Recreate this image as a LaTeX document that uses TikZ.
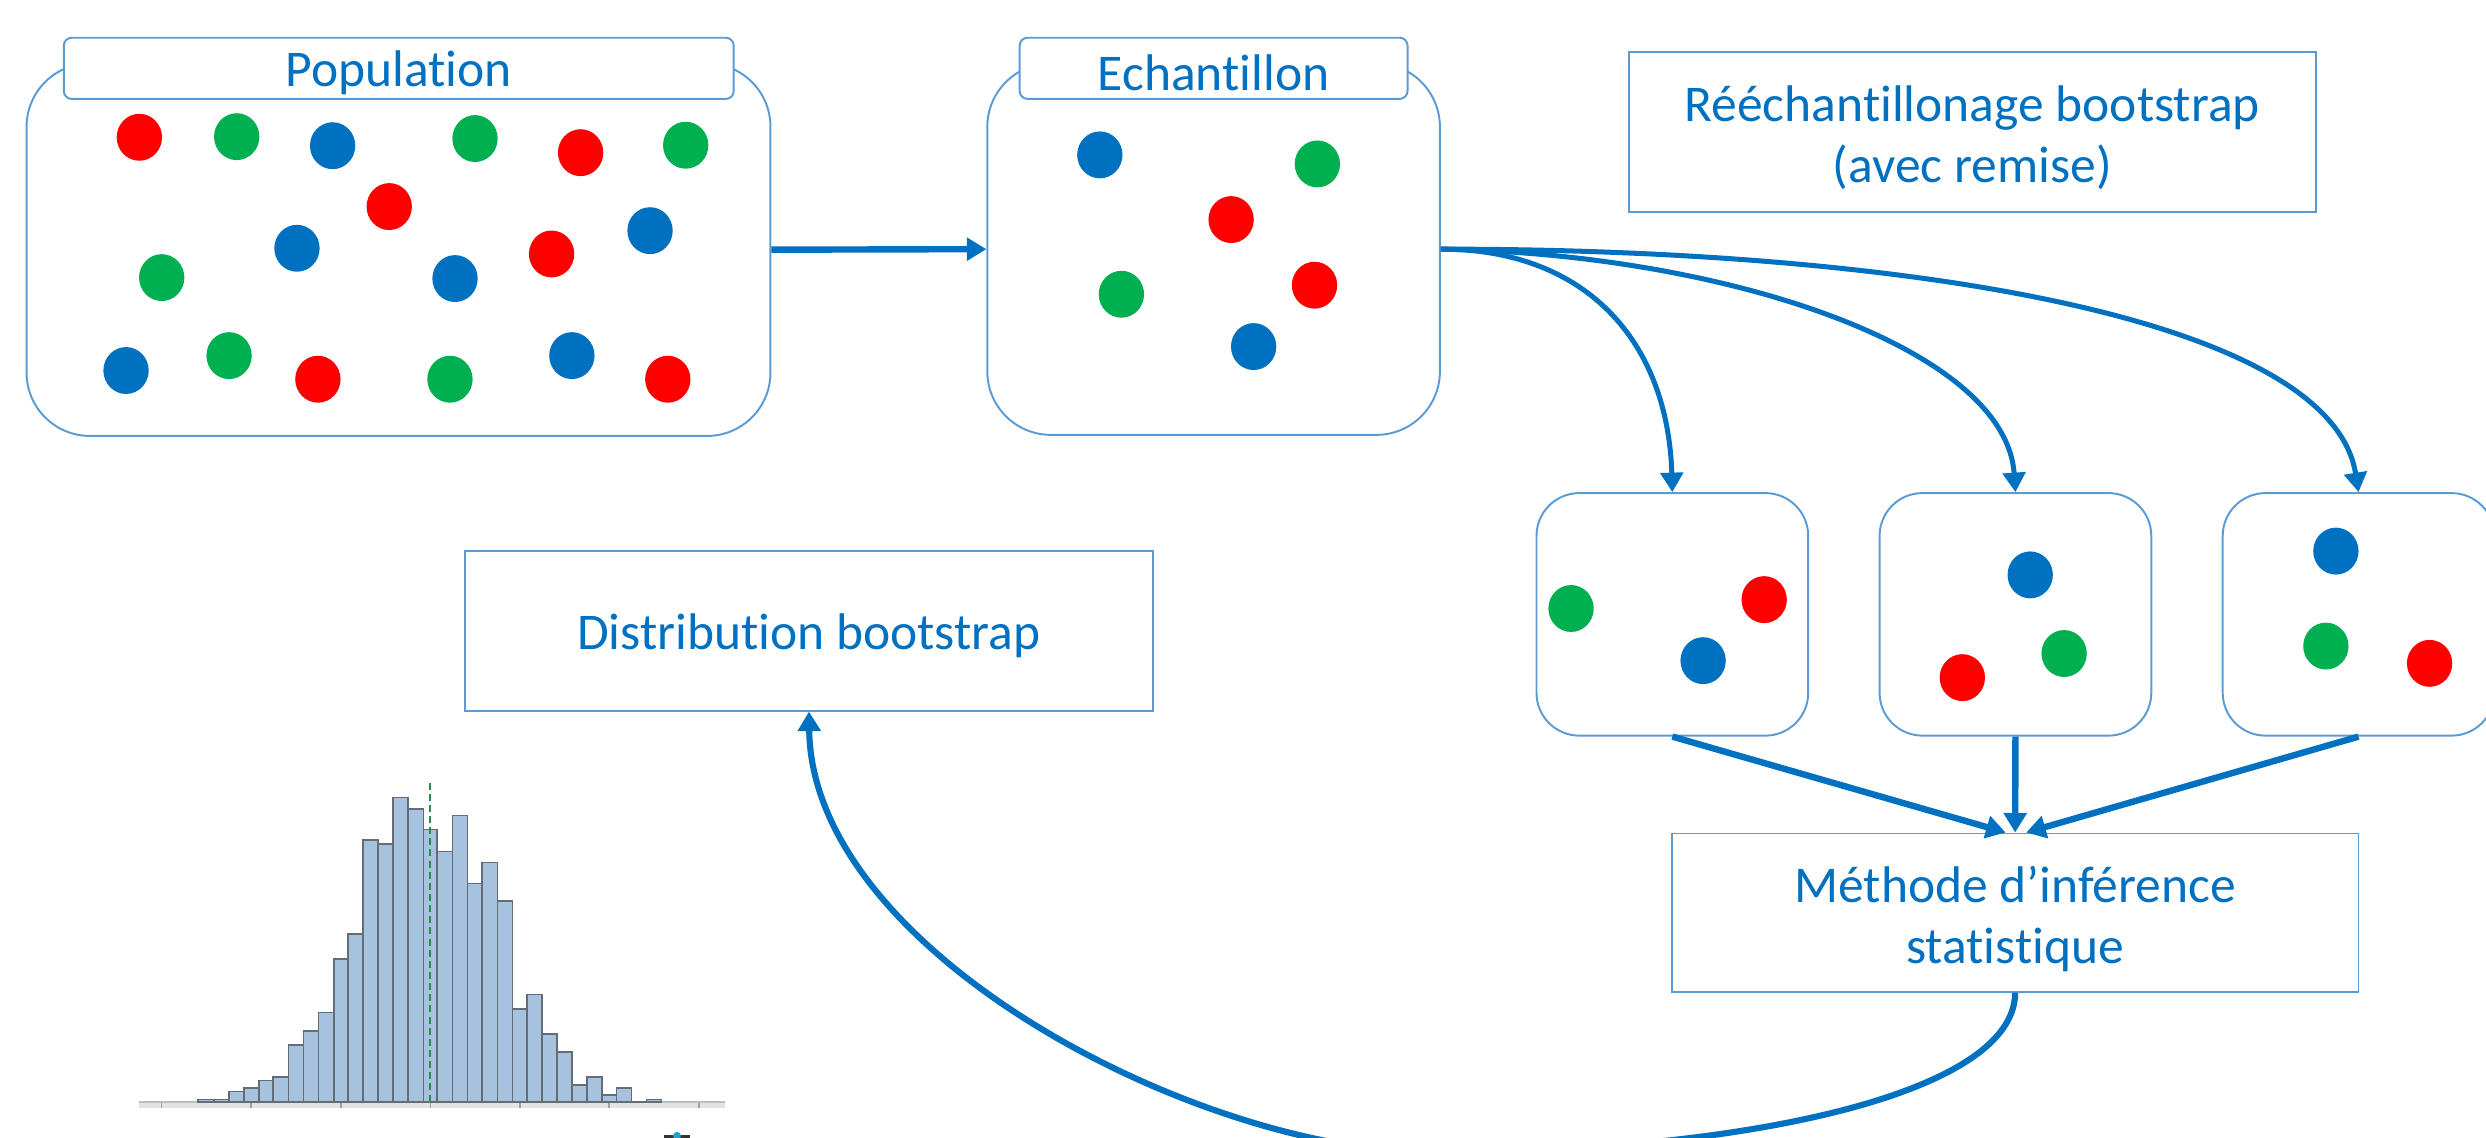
\documentclass[tikz,border=0pt]{standalone}
\usepackage{fontspec}
\setmainfont{Carlito}[Ligatures={NoCommon}]
\usetikzlibrary{arrows.meta}
\definecolor{oblue}{HTML}{0070C0}
\definecolor{ored}{HTML}{FF0000}
\definecolor{ogreen}{HTML}{00B050}
\definecolor{lineblue}{HTML}{5B9BD5}
\definecolor{barfill}{HTML}{A7C2DF}
\definecolor{barline}{HTML}{646C76}
\definecolor{axisband}{HTML}{E3E3E3}
\definecolor{axisline}{HTML}{BDBDBD}
\definecolor{tickgray}{HTML}{A0A0A0}
\definecolor{meangreen}{HTML}{2E8B57}
\newcommand\bdot[3]{\fill[#3] (#1,#2) ellipse [x radius=0.286cm, y radius=0.296cm];}
\begin{document}
\begin{tikzpicture}[x=0.02cm,y=-0.02cm,
  lbl/.style={font=\fontsize{18.5}{22}\selectfont, text=oblue, align=center, inner sep=0pt},
  bigbox/.style={draw=lineblue, line width=0.7pt, rounded corners=0.8cm, inner sep=0pt},
  ttl/.style={draw=lineblue, line width=0.7pt, fill=white, rounded corners=0.1cm, inner sep=0pt, minimum height=0.772cm},
  rect/.style={draw=lineblue, line width=0.7pt, inner sep=0pt},
  sbox/.style={draw=lineblue, line width=0.7pt, rounded corners=0.54cm, minimum width=3.428cm, minimum height=3.06cm, inner sep=0pt},
  arr/.style={draw=oblue, line cap=butt, -{Triangle[width=8pt,length=7pt]}},
]
\useasboundingbox (0,0) rectangle (1568,717.15);
\clip (0,0) rectangle (1568,717.15);

% main boxes
\node[bigbox, minimum width=9.386cm, minimum height=4.7cm] (pop) at (251.35,157.5) {};
\node[ttl, minimum width=8.452cm] (popT) at (251.5,43.1) {};
\node[lbl] (popL) at ([yshift=-0.06cm]popT.center) {Population};
\node[bigbox, minimum width=5.71cm, minimum height=4.686cm] (ech) at (765.45,157.15) {};
\node[ttl, minimum width=4.894cm] (echT) at (765.45,43.1) {};
\node[lbl] (echL) at ([yshift=-0.06cm]echT.center) {Echantillon};
\node[rect, minimum width=8.662cm, minimum height=2.014cm] (reech) at (1243.95,83.35) {};
\node[lbl] (reechL) at ([yshift=-0.07cm]reech.center) {Rééchantillonage bootstrap\\(avec remise)};
\node[rect, minimum width=8.67cm, minimum height=2.018cm] (dist) at (510.25,397.75) {};
\node[lbl] (distL) at ([yshift=-0.06cm]dist.center) {Distribution bootstrap};
\node[rect, minimum width=8.664cm, minimum height=1.996cm] (meth) at (1271,575.6) {};
\node[lbl] (methL) at ([yshift=-0.08cm]meth.center) {Méthode d’inférence\\statistique};
\node[sbox] (b1) at (1054.8,387.5) {};
\node[sbox] (b2) at (1271.2,387.5) {};
\node[sbox] (b3) at (1487.6,387.5) {};

% population dots
\bdot{87.9}{86.6}{ored}
\bdot{149.3}{86.2}{ogreen}
\bdot{209.8}{91.9}{oblue}
\bdot{299.6}{87.4}{ogreen}
\bdot{366.2}{96.3}{ored}
\bdot{432.5}{91.6}{ogreen}
\bdot{245.5}{130.3}{ored}
\bdot{187.3}{156.6}{oblue}
\bdot{102.0}{175.1}{ogreen}
\bdot{287.0}{175.7}{oblue}
\bdot{347.9}{160.2}{ored}
\bdot{410.0}{145.5}{oblue}
\bdot{79.5}{233.7}{oblue}
\bdot{144.5}{224.3}{ogreen}
\bdot{200.5}{239.2}{ored}
\bdot{283.8}{239.2}{ogreen}
\bdot{360.7}{224.3}{oblue}
\bdot{421.2}{239.2}{ored}
% sample dots
\bdot{693.7}{97.7}{oblue}
\bdot{830.9}{103.4}{ogreen}
\bdot{776.5}{138.5}{ored}
\bdot{707.3}{185.6}{ogreen}
\bdot{829.1}{179.9}{ored}
\bdot{790.7}{218.6}{oblue}
% bootstrap samples
\bdot{990.9}{383.8}{ogreen}
\bdot{1112.7}{378.2}{ored}
\bdot{1074.2}{416.7}{oblue}
\bdot{1280.5}{362.6}{oblue}
\bdot{1301.9}{412.2}{ogreen}
\bdot{1237.7}{427.4}{ored}
\bdot{1473.3}{347.6}{oblue}
\bdot{1467.0}{407.5}{ogreen}
\bdot{1532.4}{418.4}{ored}

% connectors
\draw[arr, line width=2.3pt] (pop.east) -- (ech.west);
\draw[arr, line width=1.8pt] (ech.east) .. controls (1000,157) and (1052,215) .. (b1.north);
\draw[arr, line width=1.8pt] (ech.east) .. controls (1090,160) and (1265,220) .. (b2.north);
\draw[arr, line width=1.8pt] (ech.east) .. controls (1200,157) and (1470,200) .. (b3.north);
\draw[arr, line width=2.3pt] (b1.south) -- ([xshift=-0.12cm]meth.north);
\draw[arr, line width=2.3pt] (b2.south) -- (meth.north);
\draw[arr, line width=2.3pt] (b3.south) -- ([xshift=0.14cm]meth.north);
\coordinate (low) at (905,727);
\draw[arr, line width=2.2pt] (meth.south) .. controls (1271,690) and (1100,727) .. (low)
   .. controls (755,727) and (512,600) .. (dist.south);

% histogram
\begin{scope}[shift={(63.07,473)}, xscale=0.2615, yscale=0.2102]
  \fill[axisband] (95,1057) rectangle (1508,1075);
  \draw[axisline, line width=0.8pt] (95,1057) -- (1508,1057);
  \foreach \t in {148,365,581,797,1013,1228,1444}
    \draw[tickgray, line width=0.6pt] (\t,1058) -- (\t,1075);
  \foreach \l/\r/\h in {237/275/1049,275/311/1049,311/347/1025,347/384/1015,384/418/992,
      418/455/982,455/491/886,491/527/844,527/564/788,564/598/628,598/634/552,
      634/671/271,671/707/282,707/743/143,743/780/177,780/813/239,813/850/305,
      850/886/197,886/922/401,922/959/338,959/995/454,995/1030/777,1030/1066/734,
      1066/1102/853,1102/1139/907,1139/1175/1005,1175/1210/982,1210/1246/1035,
      1246/1282/1015,1318/1354/1049}
    \filldraw[fill=barfill, draw=barline, line width=0.6pt] (\l,1057) rectangle (\r,\h);
  \draw[barline, line width=0.7pt] (237,1057) -- (1354,1057);
  \draw[meangreen, line width=0.5pt, dash pattern=on 2.5pt off 1.5pt] (796,98) -- (796,1057);
\end{scope}
% clipped mark at the bottom edge
\draw[black!80, line width=1pt] (419,716.6) -- (435,716.6);
\fill[cyan!70!teal] (427,716.4) circle [radius=0.05cm];
\end{tikzpicture}
\end{document}
